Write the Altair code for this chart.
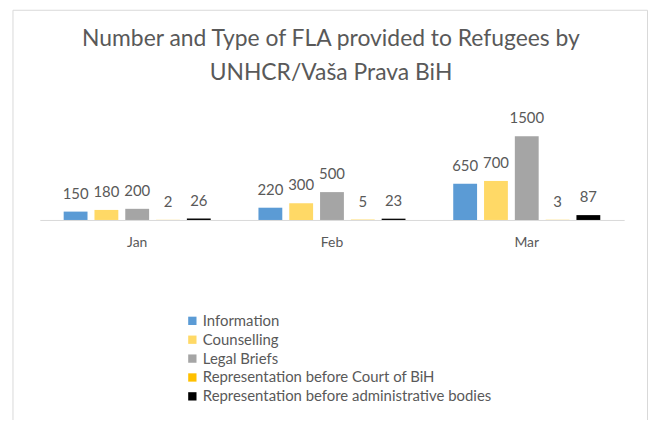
import altair as alt
import pandas as pd

months = ["Jan", "Feb", "Mar"]
series = [
    "Information",
    "Counselling",
    "Legal Briefs",
    "Representation before Court of BiH",
    "Representation before administrative bodies",
]
information = [150, 220, 650]
counselling = [180, 300, 700]
legal_briefs = [200, 500, 1500]
court = [2, 5, 3]
admin = [26, 23, 87]
colors = ["#5B9BD5", "#FFD966", "#A5A5A5", "#FFC000", "#000000"]
title_lines = ["Number and Type of FLA provided to Refugees by", "UNHCR/Vaša Prava BiH"]

rows = []
for s, vals in zip(series, [information, counselling, legal_briefs, court, admin]):
    for m, v in zip(months, vals):
        rows.append({"month": m, "series": s, "value": v})
df = pd.DataFrame(rows)

font = "Lato"
text_color = "#595959"

x = alt.X(
    "month:N",
    sort=months,
    scale=alt.Scale(paddingInner=0, paddingOuter=0),
    axis=alt.Axis(
        title=None, labelAngle=0, ticks=False, domainColor="#D9D9D9",
        labelPadding=16, labelFontSize=14, labelColor=text_color, labelFont=font,
    ),
)
xo = alt.XOffset("series:N", sort=series,
                 scale=alt.Scale(paddingInner=0.226, paddingOuter=0.775))
y = alt.Y("value:Q", scale=alt.Scale(domain=[0, 2140]), axis=None)

base = alt.Chart(df).encode(x=x, xOffset=xo, y=y)

bars = base.mark_bar().encode(
    color=alt.Color(
        "series:N",
        sort=series,
        scale=alt.Scale(domain=series, range=colors),
        legend=alt.Legend(
            orient="none", legendX=146, legendY=214, title=None,
            symbolType="square", symbolSize=70, labelFont=font,
            labelFontSize=15, labelColor=text_color, rowPadding=3,
            labelOffset=3, labelLimit=500,
        ),
    )
)
labels = base.mark_text(
    baseline="bottom", dy=-10, font=font, fontSize=15, color=text_color
).encode(text="value:Q")

frame = alt.Chart(pd.DataFrame({"f": [0]})).mark_rect(
    fill="white", fillOpacity=0, stroke="#D9D9D9", strokeWidth=1
).encode(x=alt.value(-27), x2=alt.value(611.5), y=alt.value(-91), y2=alt.value(420))

title1 = alt.Chart(pd.DataFrame({"t": [title_lines[0]]})).mark_text(
    font=font, fontSize=23, color=text_color, baseline="middle", align="center"
).encode(text="t:N", x=alt.value(293), y=alt.value(-62))
title2 = alt.Chart(pd.DataFrame({"t": [title_lines[1]]})).mark_text(
    font=font, fontSize=23, color=text_color, baseline="middle", align="center"
).encode(text="t:N", x=alt.value(293), y=alt.value(-28))

chart = alt.layer(frame, title1, title2, bars, labels).properties(
    width=588,
    height=120,
    autosize=alt.AutoSizeParams(type="none"),
    padding={"left": 32, "top": 92, "right": 24, "bottom": 200},
).configure_view(strokeWidth=0)

chart.save("out.html", embed_options={"renderer": "svg", "actions": False})
